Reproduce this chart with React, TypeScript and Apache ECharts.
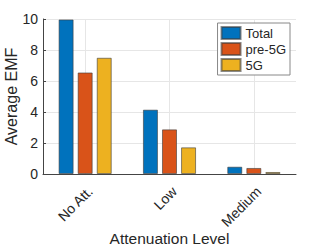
import React, { useEffect, useRef } from "react";
import * as echarts from "echarts";

const categories = ["No Att.", "Low", "Medium"];
const seriesNames = ["Total", "pre-5G", "5G"];
const totalValues = [9.97, 4.15, 0.47];
const pre5gValues = [6.55, 2.88, 0.39];
const fiveGValues = [7.5, 1.72, 0.13];
const yTicks = [0, 2, 4, 6, 8, 10];
const colors = ["#0072BD", "#D95319", "#EDB120"];

export default function App() {
  const ref = useRef<HTMLDivElement>(null);
  useEffect(() => {
    if (!ref.current) return;
    const chart = echarts.init(ref.current, undefined, { renderer: "svg" });
    const font = "'Liberation Sans', Arial, sans-serif";
    const data = [totalValues, pre5gValues, fiveGValues];
    chart.setOption({
      animation: false,
      textStyle: { fontFamily: font },
      grid: { left: 43, right: 31, top: 19, bottom: 71, containLabel: false, outerBoundsMode: "none" },
      legend: {
        right: 37,
        top: 23,
        orient: "vertical",
        itemWidth: 19,
        itemHeight: 12,
        itemGap: 2,
        padding: [3, 4, 3, 3],
        borderColor: "#888",
        borderWidth: 1,
        backgroundColor: "#fff",
        textStyle: { fontSize: 13, lineHeight: 13, color: "#262626", fontFamily: font },
        data: seriesNames.map((n) => ({ name: n, icon: "rect" })),
      },
      xAxis: {
        type: "category",
        data: categories,
        name: "Attenuation Level",
        nameLocation: "middle",
        nameGap: 56,
        nameMoveOverlap: false,
        nameTextStyle: { fontSize: 15.5, color: "#262626", fontFamily: font },
        axisLine: { lineStyle: { color: "#444", width: 1 } },
        axisTick: { show: false, alignWithLabel: true },
        axisLabel: {
          rotate: 45,
          fontSize: 14,
          color: "#262626",
          margin: 10,
          fontFamily: font,
          verticalAlign: "top",
        },
        splitLine: { show: true, alignWithLabel: true, lineStyle: { color: "#e6e6e6", width: 1 } },
      },
      yAxis: {
        type: "value",
        min: 0,
        max: 10,
        interval: 2,
        name: "Average EMF",
        nameLocation: "middle",
        nameGap: 24,
        nameMoveOverlap: false,
        nameTextStyle: { fontSize: 16, color: "#262626", fontFamily: font },
        axisLine: { show: true, lineStyle: { color: "#444", width: 1 } },
        axisTick: { show: true, inside: true, length: 3, lineStyle: { color: "#444" } },
        axisLabel: {
          fontSize: 14,
          color: "#262626",
          margin: 5,
          fontFamily: font,
          formatter: (v: number) => (yTicks.includes(v) ? String(v) : ""),
        },
        splitLine: { show: true, lineStyle: { color: "#e6e6e6", width: 1 } },
      },
      series: seriesNames.map((n, i) => ({
        name: n,
        type: "bar",
        data: data[i],
        barGap: "27%",
        barCategoryGap: "37%",
        itemStyle: { color: colors[i], borderColor: "rgba(60,60,60,0.6)", borderWidth: 1 },
      })),
    });
    return () => chart.dispose();
  }, []);
  return <div ref={ref} style={{ width: 327, height: 245, position: "absolute", left: 0, top: 0, background: "#fff" }} />;
}
